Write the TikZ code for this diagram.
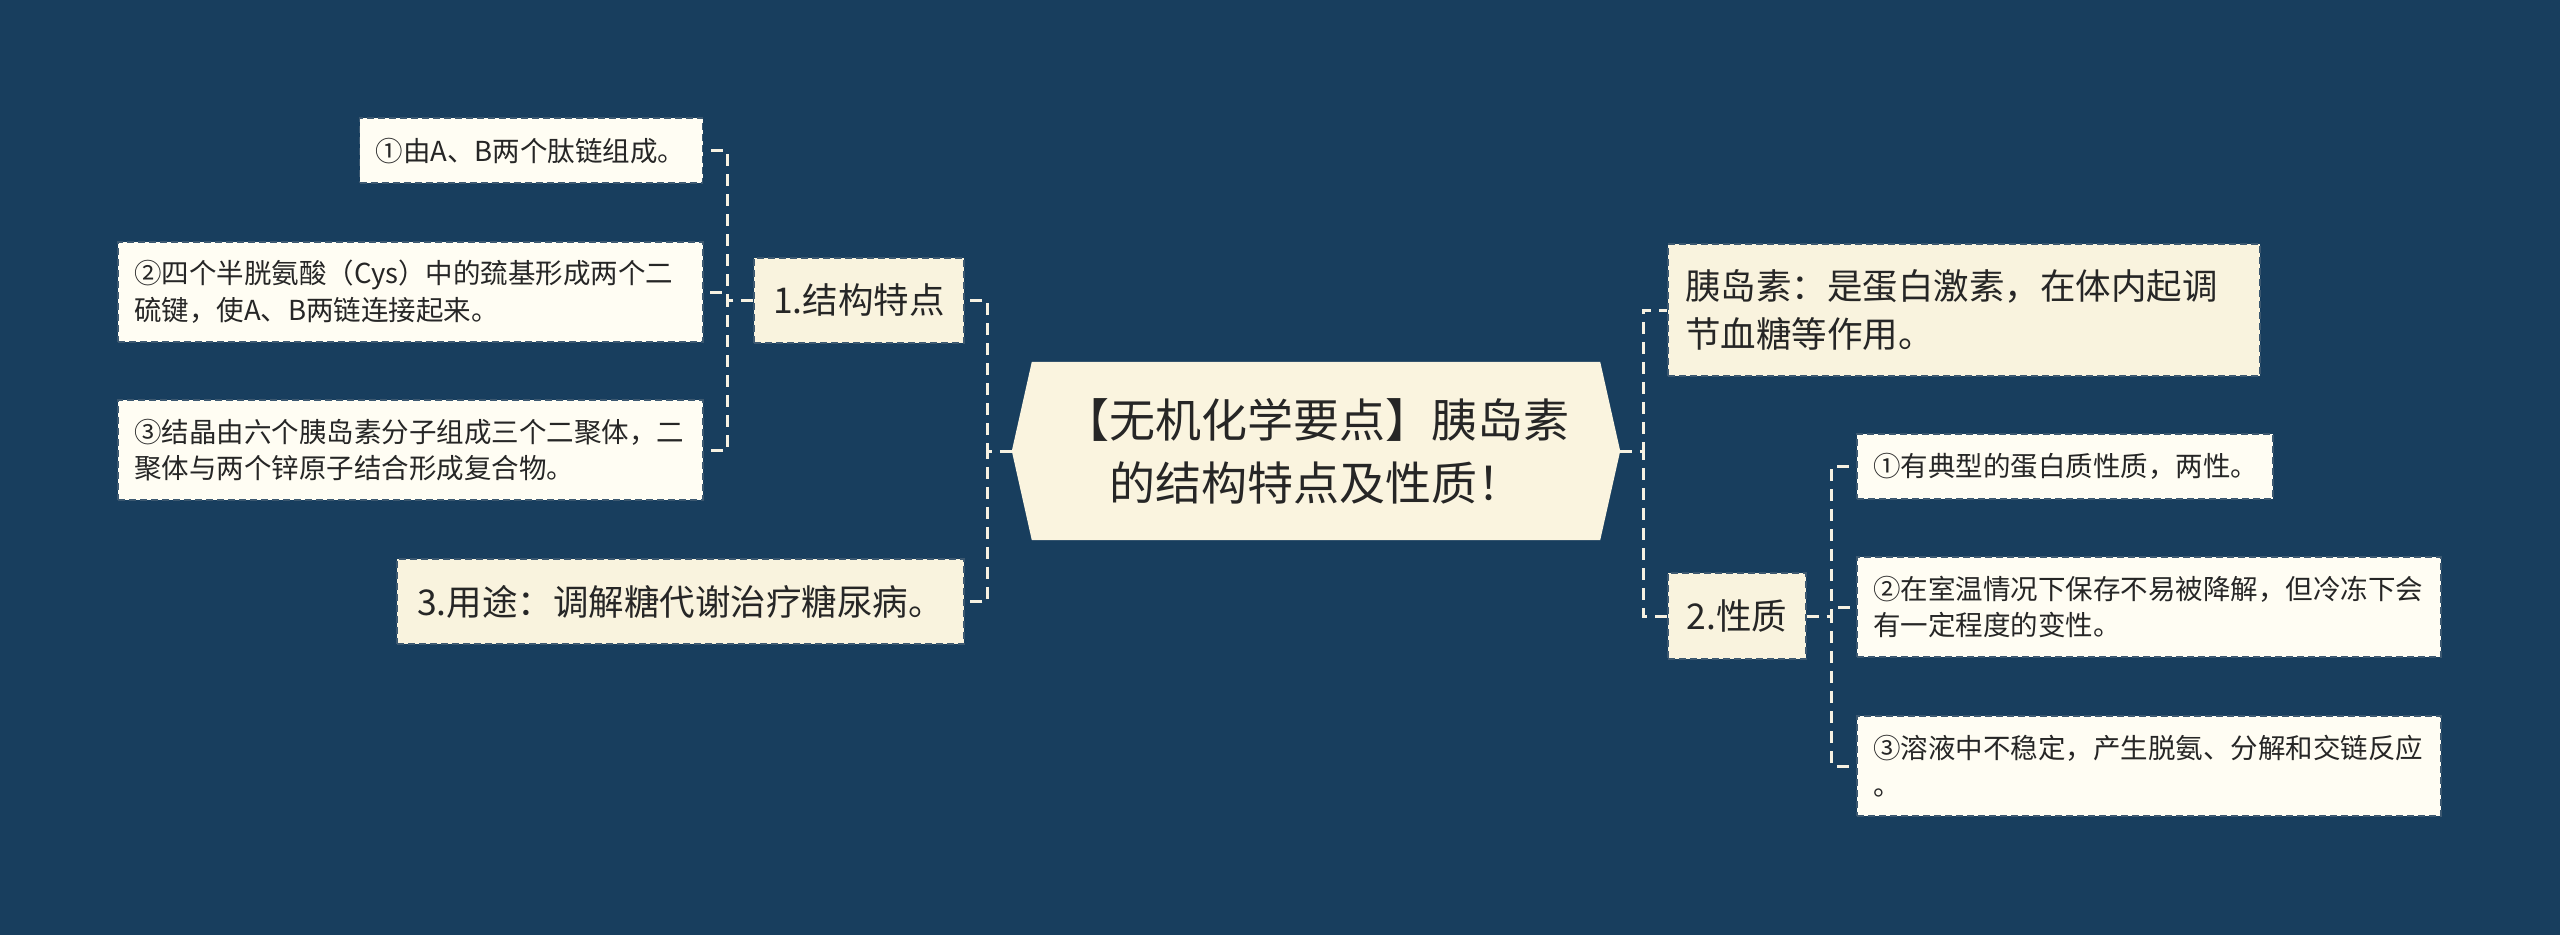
\documentclass[tikz,border=0pt]{standalone}
\usepackage{fontspec}
\setmainfont{Noto Sans CJK SC}
\definecolor{bgblue}{RGB}{24,62,94}
\definecolor{lvlfill}{RGB}{249,243,222}
\definecolor{leaffill}{RGB}{255,253,243}
\definecolor{rootfill}{RGB}{250,244,223}
\definecolor{txt}{RGB}{38,38,38}
\definecolor{connc}{RGB}{246,241,226}
\definecolor{edgec}{RGB}{60,88,112}
\pgfdeclarelayer{bglayer}
\pgfdeclarelayer{hexlayer}
\pgfsetlayers{bglayer,hexlayer,main}
\tikzset{
  boxbase/.style={draw=edgec, line width=1.6pt, dash pattern=on 7pt off 4pt, inner ysep=0pt, text=txt},
  lvl/.style={boxbase, fill=lvlfill, inner xsep=17pt, font=\fontsize{35.5}{48}\selectfont},
  leaf/.style={boxbase, fill=leaffill, inner xsep=16pt, align=left, font=\fontsize{27.5}{36.7}\selectfont},
  rootnode/.style={inner sep=0pt, minimum width=568pt, minimum height=178pt, align=center, text=txt, font=\fontsize{46}{63}\selectfont},
  conn/.style={draw=connc, line width=3pt, dash pattern=on 12pt off 8pt}
}
\begin{document}
\begin{tikzpicture}[x=1pt,y=-1pt]
\begin{pgfonlayer}{bglayer}
\fill[bgblue] (0,0) rectangle (2560,935);
\end{pgfonlayer}
\useasboundingbox (0,0) rectangle (2560,935);

% root
\node[rootnode] (root) at (1316,451) {【无机化学要点】胰岛素\\的结构特点及性质！};
\begin{pgfonlayer}{hexlayer}
\fill[rootfill] (root.north west) -- (root.north east) -- ([xshift=20pt]root.east) -- (root.south east) -- (root.south west) -- ([xshift=-20pt]root.west) -- cycle;
\end{pgfonlayer}

% level 1
\node[lvl, text width=176pt, minimum height=85pt, align=center] (s1) at (859,300.5) {1.结构特点};
\node[lvl, text width=533pt, minimum height=85pt, align=center] (s3) at (680.5,601.5) {3.用途：调解糖代谢治疗糖尿病。};
\node[lvl, text width=558pt, minimum height=132pt, align=left] (r1) at (1964,310) {胰岛素：是蛋白激素，在体内起调\\节血糖等作用。};
\node[lvl, text width=104pt, minimum height=86pt, align=center] (s2) at (1737,616) {2.性质};

% leaves left
\node[leaf, text width=311pt, minimum height=65pt] (a1) at (531,150.7) {①由A、B两个肽链组成。};
\node[leaf, text width=553pt, minimum height=100pt] (a2) at (410.5,292) {②四个半胱氨酸（Cys）中的巯基形成两个二\\硫键，使A、B两链连接起来。};
\node[leaf, text width=553pt, minimum height=100pt] (a3) at (410.5,450) {③结晶由六个胰岛素分子组成三个二聚体，二\\聚体与两个锌原子结合形成复合物。};

% leaves right
\node[leaf, text width=384pt, minimum height=65pt] (b1) at (2065,466.5) {①有典型的蛋白质性质，两性。};
\node[leaf, text width=552pt, minimum height=100pt] (b2) at (2149,607) {②在室温情况下保存不易被降解，但冷冻下会\\有一定程度的变性。};
\node[leaf, text width=552pt, minimum height=100pt] (b3) at (2149,766) {③溶液中不稳定，产生脱氨、分解和交链反应\\。};

% connectors
\draw[conn] ([xshift=-20pt]root.west) -- ++(-24,0) |- (s1.east);
\draw[conn] ([xshift=-20pt]root.west) -- ++(-24,0) |- (s3.east);
\draw[conn] ([xshift=20pt]root.east) -- ++(23,0) |- (r1.west);
\draw[conn] ([xshift=20pt]root.east) -- ++(23,0) |- (s2.west);

\draw[conn] (s1.west) -- ++(-25.5,0) |- (a1.east);
\draw[conn] (s1.west) -- ++(-25.5,0) |- (a2.east);
\draw[conn] (s1.west) -- ++(-25.5,0) |- (a3.east);

\draw[conn] (s2.east) -- ++(25,0) |- (b1.west);
\draw[conn] (s2.east) -- ++(25,0) |- (b2.west);
\draw[conn] (s2.east) -- ++(25,0) |- (b3.west);
\end{tikzpicture}
\end{document}
